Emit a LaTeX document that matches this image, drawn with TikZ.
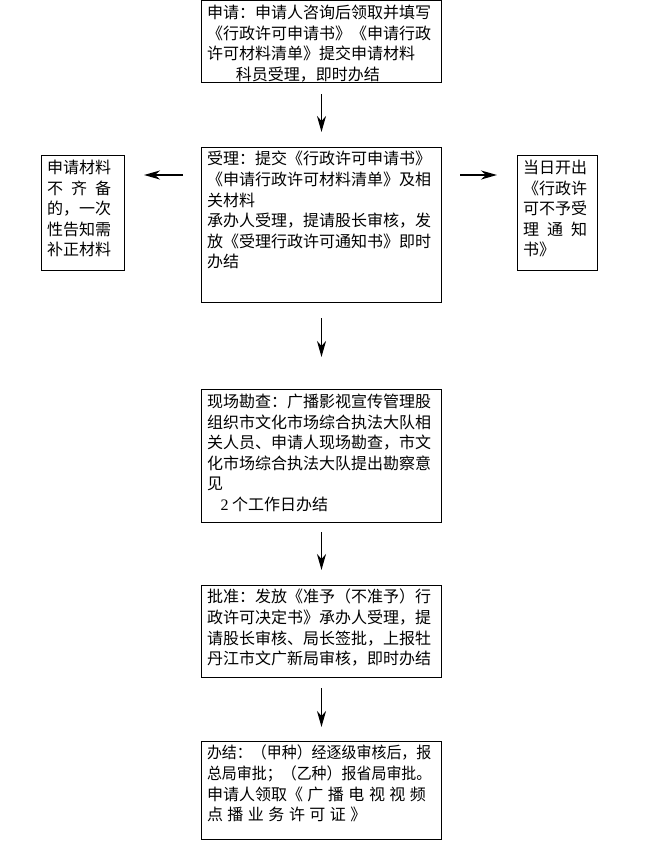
\documentclass[tikz,border=0pt]{standalone}
\usepackage{fontspec}
\usepackage{graphicx}
\setmainfont{Noto Sans CJK SC}
\newfontfamily\latinnum{Liberation Serif}
\usetikzlibrary{arrows.meta}
\newcommand{\boxtext}[3]{\parbox[t][#2][t]{#1}{\strut#3}}
\newcommand{\gap}{\hspace{4.5pt}}
\tikzset{
  stepbox/.style={draw, line width=0.8pt, anchor=north west, outer sep=0pt,
    inner xsep=5.5pt, inner ysep=3.5pt, font={\fontsize{16pt}{20.6pt}\selectfont}},
  sidebox/.style={stepbox, inner xsep=6pt},
  flow/.style={-{Stealth[length=16pt,width=9pt,inset=5pt]}, line width=1.7pt}
}
\begin{document}
\begin{tikzpicture}[x=1pt,y=-1pt]
  \useasboundingbox (0,0) rectangle (665,841);

  \node[stepbox] (apply) at (201.5,0.5) {\boxtext{229pt}{74.5pt}{%
    申请：申请人咨询后领取并填写\\
    《行政许可申请书》《申请行政\\
    许可材料清单》提交申请材料\\
    \hspace*{1.8em}科员受理，即时办结}};
  \node[stepbox] (accept) at (201.5,147) {\boxtext{229pt}{148pt}{%
    受理：提交《行政许可申请书》\\
    《申请行政许可材料清单》及相\\
    关材料\\
    承办人受理，提请股长审核，发\\
    放《受理行政许可通知书》即时\\
    办结}};
  \node[sidebox] (lack) at (41,155.5) {\boxtext{71pt}{108pt}{%
    申请材料\\
    \makebox[4em][s]{不\hfill 齐\hfill 备}\\
    的，一次\\
    性告知需\\
    补正材料}};
  \node[sidebox] (refuse) at (517,155.5) {\boxtext{68pt}{108pt}{%
    当日开出\\
    《行政许\\
    可不予受\\
    \makebox[4em][s]{理\hfill 通\hfill 知}\\
    书》}};
  \node[stepbox] (survey) at (201.5,389.5) {\boxtext{229pt}{125.5pt}{%
    现场勘查：广播影视宣传管理股\\
    组织市文化市场综合执法大队相\\
    关人员、申请人现场勘查，市文\\
    化市场综合执法大队提出勘察意\\
    见\\
    \hspace*{0.85em}{\latinnum 2} 个工作日办结}};
  \node[stepbox] (approve) at (201.5,585) {\boxtext{229pt}{85pt}{%
    批准：发放《准予（不准予）行\\
    政许可决定书》承办人受理，提\\
    请股长审核、局长签批，上报牡\\
    丹江市文广新局审核，即时办结}};
  \node[stepbox] (finish) at (201.5,741) {\boxtext{229pt}{91pt}{%
    \scalebox{0.935}[1]{办结：（甲种）经逐级审核后，报}\\
    \scalebox{0.935}[1]{总局审批；（乙种）报省局审批。}\\
    申请人领取《\gap 广\gap 播\gap 电\gap 视\gap 视\gap 频\\
    点\gap 播\gap 业\gap 务\gap 许\gap 可\gap 证\gap 》}};

  \draw[flow, shorten <=12pt, shorten >=15pt] (apply) -- (accept);
  \draw[flow, shorten <=16pt, shorten >=32.5pt] (accept) -- (survey);
  \draw[flow, shorten <=10pt, shorten >=15pt] (survey) -- (approve);
  \draw[flow, shorten <=11pt, shorten >=14pt] (approve) -- (finish);
  \draw[flow, shorten <=18.5pt, shorten >=20pt] ([yshift=-28pt]accept.north west) -- ([yshift=-19.5pt]lack.north east);
  \draw[flow, shorten <=18.5pt, shorten >=20pt] ([yshift=-28pt]accept.north east) -- ([yshift=-19.5pt]refuse.north west);
\end{tikzpicture}
\end{document}
